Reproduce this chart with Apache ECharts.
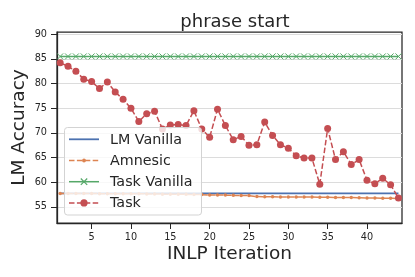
<!DOCTYPE html>
<html>
<head>
<meta charset="utf-8">
<script src="https://cdn.jsdelivr.net/npm/echarts@6/dist/echarts.min.js"></script>
<style>
html,body{margin:0;padding:0;background:#fff;}
#c{width:415px;height:277px;}
</style>
</head>
<body>
<div id="c"></div>
<script>
const iterations = [1,2,3,4,5,6,7,8,9,10,11,12,13,14,15,16,17,18,19,20,21,22,23,24,25,26,27,28,29,30,31,32,33,34,35,36,37,38,39,40,41,42,43,44];
const lmVanilla = [57.75,57.75,57.75,57.75,57.75,57.75,57.75,57.75,57.75,57.75,57.75,57.75,57.75,57.75,57.75,57.75,57.75,57.75,57.75,57.75,57.75,57.75,57.75,57.75,57.75,57.75,57.75,57.75,57.75,57.75,57.75,57.75,57.75,57.75,57.75,57.75,57.75,57.75,57.75,57.75,57.75,57.75,57.75,57.75];
const amnesic = [57.75,57.75,57.75,57.75,57.75,57.7,57.7,57.7,57.7,57.7,57.7,57.65,57.65,57.6,57.6,57.55,57.55,57.5,57.5,57.4,57.4,57.4,57.35,57.3,57.3,57.1,57.05,57.05,57.0,57.0,57.0,57.0,57.0,56.95,56.95,56.9,56.9,56.9,56.85,56.8,56.8,56.75,56.75,56.7];
const taskVanilla = [85.5,85.5,85.5,85.5,85.5,85.5,85.5,85.5,85.5,85.5,85.5,85.5,85.5,85.5,85.5,85.5,85.5,85.5,85.5,85.5,85.5,85.5,85.5,85.5,85.5,85.5,85.5,85.5,85.5,85.5,85.5,85.5,85.5,85.5,85.5,85.5,85.5,85.5,85.5,85.5,85.5,85.5,85.5,85.5];
const task = [84.2,83.5,82.5,80.9,80.4,79.0,80.3,78.3,76.8,75.0,72.3,73.9,74.4,70.8,71.6,71.7,71.5,74.5,70.8,69.1,74.8,71.5,68.6,69.3,67.5,67.6,72.2,69.5,67.6,66.9,65.4,64.9,64.9,59.6,70.9,64.6,66.2,63.6,64.6,60.4,59.7,60.8,59.5,56.8];
const seriesNames = ['LM Vanilla', 'Amnesic', 'Task Vanilla', 'Task'];
const xTicks = [5,10,15,20,25,30,35,40];
const yTicks = [55,60,65,70,75,80,85,90];

const pair = (ys) => iterations.map((x, i) => [x, ys[i]]);
const FONT = 'DejaVu Sans';
const TXT = '#262626';
const dash = [5.5, 2.4];
const COLORS = ['#4c72b0', '#dd8452', '#55a868', '#c44e52'];

// ---- legend drawn as graphic (layout only) ----
const LG = {x: 64.5, y: 127.5, w: 137, h: 87.5, rowY0: 139.3, rowGap: 21.2, lx1: 69, lx2: 99, tx: 110};
const legendEls = [{
  type: 'rect', z: 100,
  shape: {x: LG.x, y: LG.y, width: LG.w, height: LG.h, r: 3},
  style: {fill: 'rgba(255,255,255,0.8)', stroke: '#d3d3d3', lineWidth: 1}
}];
const lineDefs = [
  {w: 1.8, dash: null},
  {w: 1.5, dash: dash},
  {w: 1.5, dash: null},
  {w: 1.5, dash: dash}
];
seriesNames.forEach((name, i) => {
  const cy = LG.rowY0 + i * LG.rowGap;
  const cx = (LG.lx1 + LG.lx2) / 2;
  legendEls.push({
    type: 'line', z: 101,
    shape: {x1: LG.lx1, y1: cy, x2: LG.lx2, y2: cy},
    style: {stroke: COLORS[i], lineWidth: lineDefs[i].w, lineDash: lineDefs[i].dash}
  });
  if (i === 1) {
    legendEls.push({type: 'circle', z: 102, shape: {cx: cx, cy: cy, r: 1.9}, style: {fill: COLORS[i]}});
  } else if (i === 2) {
    const s = 3.2;
    legendEls.push({type: 'line', z: 102, shape: {x1: cx - s, y1: cy - s, x2: cx + s, y2: cy + s}, style: {stroke: COLORS[i], lineWidth: 1.2}});
    legendEls.push({type: 'line', z: 102, shape: {x1: cx - s, y1: cy + s, x2: cx + s, y2: cy - s}, style: {stroke: COLORS[i], lineWidth: 1.2}});
  } else if (i === 3) {
    legendEls.push({type: 'circle', z: 102, shape: {cx: cx, cy: cy, r: 3.6}, style: {fill: COLORS[i]}});
  }
  legendEls.push({
    type: 'text', z: 102,
    style: {text: name, x: LG.tx, y: cy + 0.5, fill: TXT, font: '14.3px "DejaVu Sans"', verticalAlign: 'middle', align: 'left'}
  });
});

const chart = echarts.init(document.getElementById('c'), null, {renderer: 'canvas'});
chart.setOption({
  animation: false,
  backgroundColor: '#fff',
  title: {
    text: 'phrase start',
    left: 230, top: 8, textAlign: 'center',
    textStyle: {fontFamily: FONT, fontSize: 18, fontWeight: 'normal', color: TXT}
  },
  grid: {
    left: 57, right: 13, top: 32, bottom: 54,
    show: true, borderColor: TXT, borderWidth: 1.25, backgroundColor: 'transparent',
    outerBoundsMode: 'none'
  },
  legend: {show: false, data: seriesNames},
  graphic: legendEls,
  xAxis: {
    type: 'value', min: 0.6, max: 44.45,
    name: 'INLP Iteration', nameLocation: 'middle', nameGap: 21.5, nameMoveOverlap: false,
    nameTextStyle: {fontFamily: FONT, fontSize: 18.5, color: TXT},
    axisLine: {show: true, lineStyle: {color: TXT, width: 1.25}},
    axisTick: {show: true, length: 6, customValues: xTicks, lineStyle: {color: TXT, width: 1}},
    axisLabel: {customValues: xTicks, fontFamily: FONT, fontSize: 9.7, color: TXT, margin: 9.5},
    splitLine: {show: false}
  },
  yAxis: {
    type: 'value', min: 51.75, max: 90.45,
    name: 'LM Accuracy', nameLocation: 'middle', nameGap: 28, nameMoveOverlap: false,
    nameTextStyle: {fontFamily: FONT, fontSize: 18.5, color: TXT},
    axisLine: {show: true, lineStyle: {color: TXT, width: 1.25}},
    axisTick: {show: true, length: 6, customValues: yTicks, lineStyle: {color: TXT, width: 1}},
    axisLabel: {customValues: yTicks, fontFamily: FONT, fontSize: 9.7, color: TXT, margin: 10},
    splitLine: {show: true, lineStyle: {color: '#dcdcdc', width: 1}}
  },
  series: [
    {
      name: seriesNames[0], type: 'line', data: pair(lmVanilla),
      symbol: 'none', color: COLORS[0],
      lineStyle: {color: COLORS[0], width: 1.8}
    },
    {
      name: seriesNames[1], type: 'line', data: pair(amnesic),
      symbol: 'circle', symbolSize: 3.5, color: COLORS[1],
      itemStyle: {color: COLORS[1]},
      lineStyle: {color: COLORS[1], width: 1.5, type: dash}
    },
    {
      name: seriesNames[2], type: 'line', data: pair(taskVanilla),
      symbol: 'path://M0,0L10,10M10,0L0,10', symbolSize: 6, color: COLORS[2],
      itemStyle: {color: COLORS[2], borderColor: COLORS[2], borderWidth: 1},
      lineStyle: {color: COLORS[2], width: 1.5}
    },
    {
      name: seriesNames[3], type: 'line', data: pair(task),
      symbol: 'circle', symbolSize: 7, color: COLORS[3],
      itemStyle: {color: COLORS[3]},
      lineStyle: {color: COLORS[3], width: 1.5, type: dash}
    }
  ]
});
</script>
</body>
</html>
